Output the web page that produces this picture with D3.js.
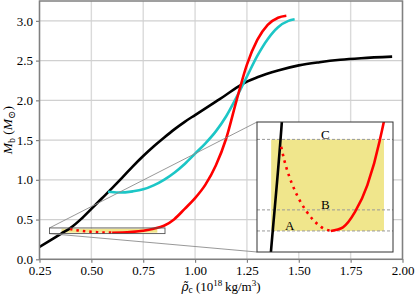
<!DOCTYPE html>
<html>
<head>
<meta charset="utf-8">
<script src="https://cdn.jsdelivr.net/npm/d3@7"></script>
<style>
  body { margin: 0; background: #fff; }
  svg text { font-family: "Liberation Serif", "DejaVu Serif", serif; }
</style>
</head>
<body>
<div id="chart"></div>
<script>
/* data */
var xTicks = [0.25, 0.50, 0.75, 1.00, 1.25, 1.50, 1.75, 2.00];
var yTicks = [0.0, 0.5, 1.0, 1.5, 2.0, 2.5, 3.0];

var blackRho  = [0.25, 0.30, 0.355, 0.40, 0.45, 0.50, 0.55, 0.60, 0.65, 0.70, 0.75, 0.80, 0.85, 0.90, 0.95, 1.00, 1.05, 1.10, 1.15, 1.20, 1.25, 1.30, 1.40, 1.50, 1.60, 1.70, 1.80, 1.95];
var blackMass = [0.155, 0.235, 0.3235, 0.395, 0.505, 0.635, 0.765, 0.895, 1.03, 1.17, 1.30, 1.42, 1.53, 1.635, 1.73, 1.815, 1.90, 1.985, 2.07, 2.16, 2.235, 2.29, 2.375, 2.44, 2.48, 2.51, 2.53, 2.55];

var cyanRho  = [0.58, 0.63, 0.70, 0.75, 0.80, 0.85, 0.90, 0.95, 1.00, 1.05, 1.10, 1.15, 1.20, 1.25, 1.30, 1.35, 1.40, 1.45, 1.48];
var cyanMass = [0.85, 0.84, 0.855, 0.88, 0.93, 1.00, 1.09, 1.20, 1.33, 1.46, 1.61, 1.80, 2.04, 2.30, 2.56, 2.77, 2.92, 3.00, 3.02];

// unstable branch (dotted) and stable branch (solid) of the red model
var redDotRho  = [0.397, 0.41, 0.43, 0.45, 0.475, 0.50, 0.53, 0.56, 0.60];
var redDotMass = [0.381, 0.3735, 0.3648, 0.358, 0.3512, 0.3458, 0.3408, 0.3372, 0.335];
var redRho  = [0.60, 0.65, 0.70, 0.75, 0.80, 0.85, 0.90, 0.95, 1.00, 1.05, 1.10, 1.15, 1.20, 1.25, 1.30, 1.35, 1.40, 1.44];
var redMass = [0.335, 0.337, 0.3455, 0.36, 0.384, 0.422, 0.505, 0.635, 0.77, 0.94, 1.18, 1.52, 2.00, 2.45, 2.76, 2.95, 3.04, 3.065];

// horizontal levels A, B, C and the shaded band
var levelNames = ["A", "B", "C"];
var levelMass  = [0.335, 0.3465, 0.385];
var labelRho   = [0.432, 0.578, 0.578];
var bandRho    = [0.356, 0.818];

// zoom window of the inset
var insetRho  = [0.298, 0.855];
var insetMass = [0.3235, 0.3945];

var W = 415, H = 295;
var plot = { left: 39.5, right: 402.5, top: 1, bottom: 259.3 };
var ins  = { left: 257, right: 393, top: 122, bottom: 252 };
var serif = '"Liberation Serif", "DejaVu Serif", serif';

var svg = d3.select("#chart").append("svg")
    .attr("width", W)
    .attr("height", H);

var x = d3.scaleLinear().domain([0.25, 2.0]).range([plot.left, plot.right]);
var y = d3.scaleLinear().domain([0, 3.25]).range([plot.bottom, plot.top]);

var xi = d3.scaleLinear().domain(insetRho).range([ins.left, ins.right]);
var yi = d3.scaleLinear().domain(insetMass).range([ins.bottom, ins.top]);

var defs = svg.append("defs");
defs.append("clipPath").attr("id", "clipMain").append("rect")
    .attr("x", plot.left).attr("y", plot.top)
    .attr("width", plot.right - plot.left).attr("height", plot.bottom - plot.top);
defs.append("clipPath").attr("id", "clipInset").append("rect")
    .attr("x", ins.left).attr("y", ins.top)
    .attr("width", ins.right - ins.left).attr("height", ins.bottom - ins.top);

function pairs(xs, ys) {
    return xs.map(function (v, i) { return [v, ys[i]]; });
}

function drawCurves(g, sx, sy, dash) {
    var line = d3.line()
        .x(function (d) { return sx(d[0]); })
        .y(function (d) { return sy(d[1]); })
        .curve(d3.curveMonotoneX);

    g.append("path").datum(pairs(blackRho, blackMass))
        .attr("d", line).attr("fill", "none")
        .attr("stroke", "#000").attr("stroke-width", 2.6);
    g.append("path").datum(pairs(cyanRho, cyanMass))
        .attr("d", line).attr("fill", "none")
        .attr("stroke", "#1cc6c6").attr("stroke-width", 2.6);
    g.append("path").datum(pairs(redDotRho, redDotMass))
        .attr("d", line).attr("fill", "none")
        .attr("stroke", "#ff0000").attr("stroke-width", 2.6)
        .attr("stroke-dasharray", dash);
    g.append("path").datum(pairs(redRho, redMass))
        .attr("d", line).attr("fill", "none")
        .attr("stroke", "#ff0000").attr("stroke-width", 2.6);
}

function drawBand(g, sx, sy) {
    g.append("rect")
        .attr("x", sx(bandRho[0]))
        .attr("y", sy(levelMass[2]))
        .attr("width", sx(bandRho[1]) - sx(bandRho[0]))
        .attr("height", sy(levelMass[0]) - sy(levelMass[2]))
        .attr("fill", "#f0e68c");
}

/* main axes */
var grid = svg.append("g");
grid.selectAll("line.gx").data(xTicks).enter().append("line")
    .attr("x1", function (d) { return x(d); }).attr("x2", function (d) { return x(d); })
    .attr("y1", plot.top).attr("y2", plot.bottom)
    .attr("stroke", "#dadada").attr("stroke-width", 1.4);
grid.selectAll("line.gy").data(yTicks).enter().append("line")
    .attr("y1", function (d) { return y(d); }).attr("y2", function (d) { return y(d); })
    .attr("x1", plot.left).attr("x2", plot.right)
    .attr("stroke", "#d0d0d0").attr("stroke-width", 1.2);

var main = svg.append("g").attr("clip-path", "url(#clipMain)");
drawBand(main, x, y);
drawCurves(main, x, y, "2.5,4");

// frame
svg.append("rect")
    .attr("x", plot.left).attr("y", plot.top)
    .attr("width", plot.right - plot.left).attr("height", plot.bottom - plot.top)
    .attr("fill", "none").attr("stroke", "#808080").attr("stroke-width", 1.5);

var xAxis = svg.append("g")
    .attr("transform", "translate(0," + plot.bottom + ")")
    .call(d3.axisBottom(x).tickValues(xTicks).tickSize(3.5).tickPadding(2.5)
        .tickFormat(d3.format(".2f")));
var yAxis = svg.append("g")
    .attr("transform", "translate(" + plot.left + ",0)")
    .call(d3.axisLeft(y).tickValues(yTicks).tickSize(3.5).tickPadding(3)
        .tickFormat(d3.format(".1f")));
[xAxis, yAxis].forEach(function (a) {
    a.attr("font-family", serif).attr("font-size", 13);
    a.select(".domain").remove();
    a.selectAll(".tick line").attr("stroke", "#808080").attr("stroke-width", 1.2);
    a.selectAll(".tick text").attr("fill", "#000")
        .style("font-family", serif)
        .style("font-size", "13px");
});

/* zoom marker and connectors */
svg.append("line")
    .attr("x1", x(insetRho[0])).attr("y1", y(insetMass[1]))
    .attr("x2", ins.left).attr("y2", ins.top)
    .attr("stroke", "#8c8c8c").attr("stroke-width", 0.9);
svg.append("line")
    .attr("x1", x(insetRho[0])).attr("y1", y(insetMass[0]))
    .attr("x2", ins.left).attr("y2", ins.bottom)
    .attr("stroke", "#8c8c8c").attr("stroke-width", 0.9);
svg.append("rect")
    .attr("x", x(insetRho[0])).attr("y", y(insetMass[1]))
    .attr("width", x(insetRho[1]) - x(insetRho[0]))
    .attr("height", y(insetMass[0]) - y(insetMass[1]))
    .attr("fill", "none").attr("stroke", "#555").attr("stroke-width", 0.9);

/* inset */
svg.append("rect")
    .attr("x", ins.left).attr("y", ins.top)
    .attr("width", ins.right - ins.left).attr("height", ins.bottom - ins.top)
    .attr("fill", "#fff");
var inset = svg.append("g").attr("clip-path", "url(#clipInset)");
drawBand(inset, xi, yi);
inset.selectAll("line.lvl").data(levelMass).enter().append("line")
    .attr("x1", ins.left).attr("x2", ins.right)
    .attr("y1", function (d) { return yi(d); }).attr("y2", function (d) { return yi(d); })
    .attr("stroke", "#999").attr("stroke-width", 1)
    .attr("stroke-dasharray", "3,2");
drawCurves(inset, xi, yi, "2.5,4.5");
inset.selectAll("text.lvl").data(levelNames).enter().append("text")
    .attr("x", function (d, i) { return xi(labelRho[i]); })
    .attr("y", function (d, i) { return yi(levelMass[i]) - 0.5; })
    .attr("text-anchor", "middle")
    .style("font-size", "13px")
    .text(function (d) { return d; });
svg.append("rect")
    .attr("x", ins.left).attr("y", ins.top)
    .attr("width", ins.right - ins.left).attr("height", ins.bottom - ins.top)
    .attr("fill", "none").attr("stroke", "#333").attr("stroke-width", 1);

/* axis titles */
var xl = svg.append("text")
    .attr("x", (plot.left + plot.right) / 2).attr("y", 290.5)
    .attr("text-anchor", "middle")
    .style("font-size", "13px");
xl.append("tspan").style("font-style", "italic").style("font-family", '"DejaVu Serif", serif')
    .style("font-size", "12px").text("\u03C1\u0303");
xl.append("tspan").attr("dy", 2.5).style("font-size", "9.5px").text("c");
xl.append("tspan").attr("dy", -2.5).text(" (10");
xl.append("tspan").attr("dy", -4.5).style("font-size", "9px").text("18");
xl.append("tspan").attr("dy", 4.5).text("\u2009kg/m");
xl.append("tspan").attr("dy", -4.5).style("font-size", "9px").text("3");
xl.append("tspan").attr("dy", 4.5).text(")");

var yl = svg.append("text")
    .attr("transform", "translate(12," + ((plot.top + plot.bottom) / 2) + ") rotate(-90)")
    .attr("text-anchor", "middle")
    .style("font-size", "13.5px");
yl.append("tspan").style("font-style", "italic").text("M");
yl.append("tspan").attr("dy", 2.5).style("font-size", "10px").text("b");
yl.append("tspan").attr("dy", -2.5).text(" (");
yl.append("tspan").style("font-style", "italic").text("M");
yl.append("tspan").attr("dy", 2.5).style("font-size", "10px").text("\u2299");
yl.append("tspan").attr("dy", -2.5).text(")");
</script>
</body>
</html>
